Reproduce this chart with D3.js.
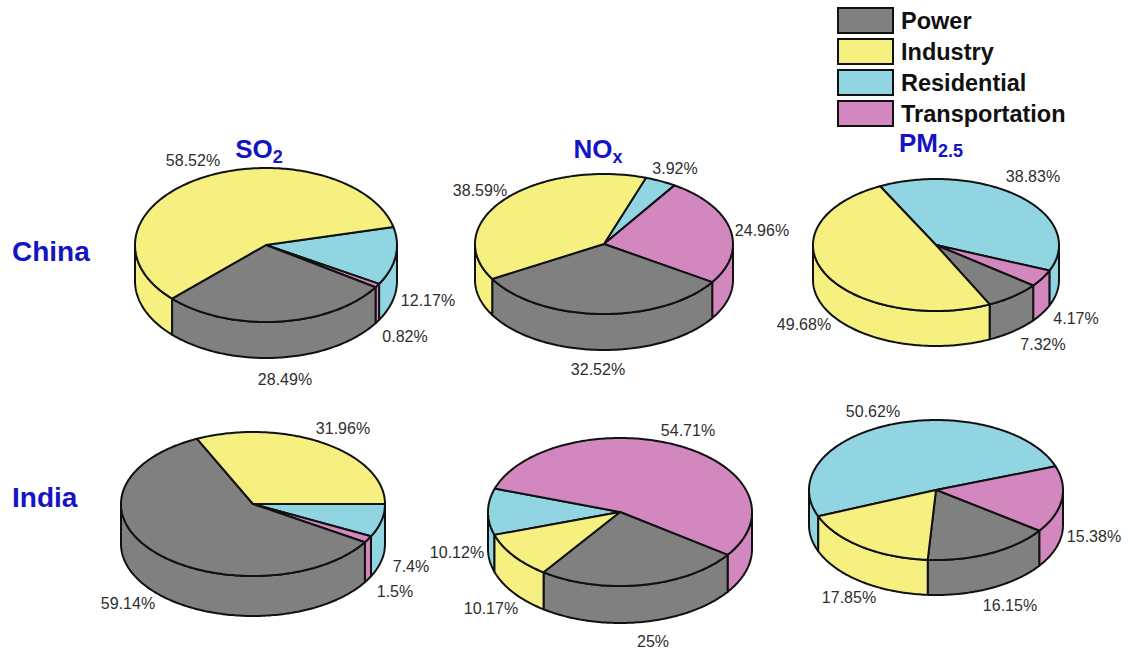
<!DOCTYPE html>
<html>
<head>
<meta charset="utf-8">
<script src="https://cdn.jsdelivr.net/npm/d3@7"></script>
<style>
  html, body { margin: 0; padding: 0; background: #ffffff; }
  svg { display: block; }
</style>
</head>
<body>
<svg id="chart" width="1129" height="653"></svg>
<script>
// Emission shares (%) by sector, ordered as in `sectors`
const sectors = ["Power", "Industry", "Residential", "Transportation"];
const countries = ["China", "India"];
const pollutantMain = ["SO", "NO", "PM"];
const pollutantSub = ["2", "x", "2.5"];

const chinaSO2 = [28.49, 58.52, 12.17, 0.82];
const chinaNOx = [32.52, 38.59, 3.92, 24.96];
const chinaPM25 = [7.32, 49.68, 38.83, 4.17];
const indiaSO2 = [59.14, 31.96, 7.4, 1.5];
const indiaNOx = [25, 10.17, 10.12, 54.71];
const indiaPM25 = [16.15, 17.85, 50.62, 15.38];

// Slices run clockwise in this sector order
const sliceOrder = [2, 3, 0, 1];

const colors = ["#808080", "#f6f081", "#92d5e2", "#d288bf"];
const blue = "#1414c4";
const font = "'Liberation Sans', Arial, Helvetica, sans-serif";

// Per-pie geometry: centre, radii, depth, angle (deg, counter-clockwise from east)
// where the Residential slice begins, and label offsets from centre (sector order)
const pies = [
  { values: chinaSO2, cx: 266, cy: 245, rx: 131, ry: 77, h: 36, start: 13.5,
    labels: [[19, 134], [-73, -85], [162, 55], [139, 91]] },
  { values: chinaNOx, cx: 604, cy: 244, rx: 129, ry: 70, h: 36, start: 71,
    labels: [[-6, 125], [-124, -54], [71, -76], [158, -14]] },
  { values: chinaPM25, cx: 936, cy: 245, rx: 123, ry: 66, h: 35, start: 117,
    labels: [[107, 99], [-132, 79], [97, -69], [140, 73]] },
  { values: indiaSO2, cx: 253, cy: 504, rx: 132, ry: 72, h: 40, start: 0,
    labels: [[-125, 99], [90, -76], [158, 62], [142, 87]] },
  { values: indiaNOx, cx: 620, cy: 512, rx: 132, ry: 74, h: 37, start: 198,
    labels: [[33, 129], [-129, 96], [-163, 40], [68, -82]] },
  { values: indiaPM25, cx: 936, cy: 490, rx: 127, ry: 70, h: 35, start: 202,
    labels: [[74, 115], [-87, 107], [-63, -79], [158, 46]] }
];

const titlePos = [ { x: 259, y: 158 }, { x: 598, y: 158 }, { x: 931, y: 152 } ];
const rowLabelPos = [ { x: 12, y: 261 }, { x: 12, y: 507 } ];

const svg = d3.select("#chart");

// d3.pie angles: 0 at 12 o'clock, increasing clockwise
function pointAt(p, a, dz) {
  return [p.cx + p.rx * Math.sin(a), p.cy - p.ry * Math.cos(a) + (dz || 0)];
}
function arcPoints(p, a0, a1, dz) {
  const n = Math.max(2, Math.ceil(Math.abs(a1 - a0) / (Math.PI / 180)));
  return d3.range(n + 1).map(i => pointAt(p, a0 + (a1 - a0) * i / n, dz));
}
const line = d3.line();

pies.forEach(p => {
  const g = svg.append("g");
  const startRad = (90 - p.start) * Math.PI / 180;
  const pie = d3.pie().sort(null)
    .value(d => d.value)
    .startAngle(startRad)
    .endAngle(startRad + 2 * Math.PI);
  const arcs = pie(sliceOrder.map(k => ({ k, value: p.values[k] })));

  // Visible side walls: the front half of the rim, a in (pi/2, 3pi/2) mod 2pi
  const sideG = g.append("g");
  arcs.forEach(s => {
    for (let k = -1; k <= 2; k++) {
      const lo = Math.max(s.startAngle, Math.PI / 2 + 2 * Math.PI * k);
      const hi = Math.min(s.endAngle, 3 * Math.PI / 2 + 2 * Math.PI * k);
      if (hi - lo > 1e-4) {
        const pts = arcPoints(p, lo, hi, 0).concat(arcPoints(p, hi, lo, p.h));
        sideG.append("path")
          .attr("d", line(pts) + "Z")
          .attr("fill", colors[s.data.k])
          .attr("stroke", "#111")
          .attr("stroke-width", 2)
          .attr("stroke-linejoin", "round");
      }
    }
  });

  // Top faces
  const topG = g.append("g");
  arcs.forEach(s => {
    const pts = [[p.cx, p.cy]].concat(arcPoints(p, s.startAngle, s.endAngle, 0));
    topG.append("path")
      .attr("d", line(pts) + "Z")
      .attr("fill", colors[s.data.k])
      .attr("stroke", "#111")
      .attr("stroke-width", 2)
      .attr("stroke-linejoin", "round");
  });

  // Percentage labels
  p.values.forEach((v, i) => {
    g.append("text")
      .attr("x", p.cx + p.labels[i][0])
      .attr("y", p.cy + p.labels[i][1])
      .attr("text-anchor", "middle")
      .attr("dominant-baseline", "central")
      .attr("font-family", font)
      .attr("font-size", 16)
      .attr("fill", "#2e2e2e")
      .text(v + "%");
  });
});

// Pollutant titles with subscripts
pollutantMain.forEach((m, i) => {
  const t = svg.append("text")
    .attr("x", titlePos[i].x)
    .attr("y", titlePos[i].y)
    .attr("text-anchor", "middle")
    .attr("font-family", font)
    .attr("font-weight", "bold")
    .attr("font-size", 26)
    .attr("fill", blue);
  t.append("tspan").text(m);
  t.append("tspan").attr("font-size", 18).attr("dy", 5).text(pollutantSub[i]);
});

// Country row labels
countries.forEach((c, i) => {
  svg.append("text")
    .attr("x", rowLabelPos[i].x)
    .attr("y", rowLabelPos[i].y)
    .attr("font-family", font)
    .attr("font-weight", "bold")
    .attr("font-size", 28)
    .attr("fill", blue)
    .text(c);
});

// Legend
const legend = svg.append("g").attr("transform", "translate(838,8)");
sectors.forEach((s, i) => {
  const row = legend.append("g").attr("transform", `translate(0,${i * 31})`);
  row.append("rect")
    .attr("width", 55).attr("height", 25)
    .attr("fill", colors[i])
    .attr("stroke", "#111").attr("stroke-width", 2);
  row.append("text")
    .attr("x", 63).attr("y", 12.5)
    .attr("dominant-baseline", "central")
    .attr("font-family", font)
    .attr("font-weight", "bold")
    .attr("font-size", 23.5)
    .attr("fill", "#111")
    .text(s);
});
</script>
</body>
</html>
